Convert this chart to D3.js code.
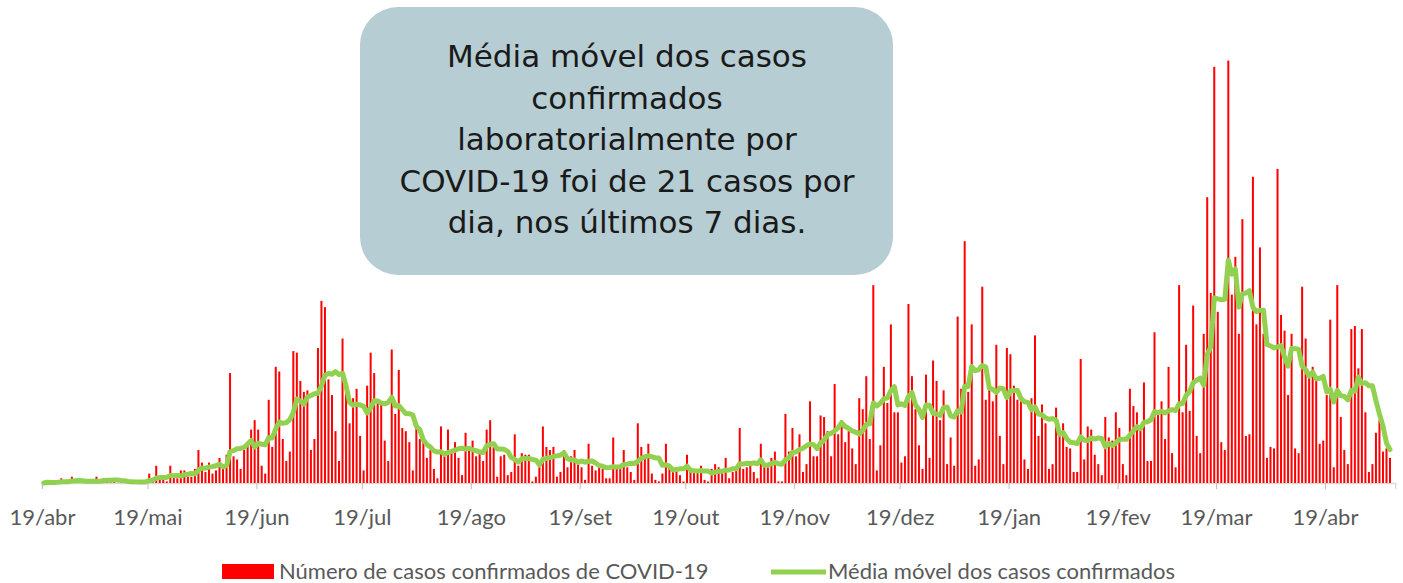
<!DOCTYPE html>
<html>
<head>
<meta charset="utf-8">
<script src="https://cdn.jsdelivr.net/npm/d3@7"></script>
<style>
  body { margin: 0; background: #fff; }
  svg { display: block; }
</style>
</head>
<body>
<div id="chart"></div>
<script>
// first day of the series (19/abr/2020), one value per day after it
const startDate = "2020-04-19";

// daily confirmed cases
const cases = [
  // abr-mai
  0, 1, 0, 0, 1, 3, 1, 0, 4, 1, 1, 0, 1, 1, 0, 4, 1, 3, 2, 1, 2, 0, 2, 0, 0, 1, 0, 1, 1, 2, 6, 1,
  // mai-jun
  11, 2, 2, 1, 11, 4, 3, 8, 8, 4, 4, 9, 21, 13, 7, 13, 6, 8, 16, 9, 18, 70, 17, 15, 9, 21, 24, 34, 40, 34, 11, 6, 53, 23, 74, 71,
  // jun-jul
  28, 14, 20, 84, 83, 65, 58, 59, 21, 28, 86, 116, 112, 66, 56, 33, 14, 92, 60, 38, 54, 60, 30, 8, 62, 83, 70, 53, 50, 27, 14, 85, 44, 72,
  // jul-ago
  35, 33, 26, 8, 35, 28, 26, 16, 21, 9, 3, 36, 17, 34, 21, 26, 16, 5, 32, 21, 27, 17, 20, 14, 34, 40, 23, 4, 17, 18, 5, 7, 31, 11,
  // ago-set
  19, 18, 18, 1, 4, 10, 36, 23, 21, 23, 4, 7, 21, 10, 17, 21, 12, 10, 2, 25, 11, 8, 10, 9, 3, 3, 29, 9, 9, 21, 10, 7, 2, 38,
  // set-out
  23, 16, 25, 6, 2, 1, 6, 25, 10, 8, 8, 5, 1, 18, 7, 7, 7, 11, 2, 1, 9, 12, 10, 7, 16, 3, 7, 8, 35, 9, 10, 14, 7, 3,
  // out-nov
  25, 11, 10, 16, 20, 1, 1, 44, 20, 35, 17, 31, 7, 12, 52, 17, 17, 43, 42, 33, 17, 63, 31, 40, 26, 33, 22, 12, 54, 47, 68, 28, 126, 8,
  // nov-dez
  24, 74, 51, 101, 45, 45, 13, 17, 114, 68, 47, 24, 9, 69, 16, 78, 65, 40, 59, 12, 29, 11, 106, 60, 154, 58, 101, 11, 15, 125, 53, 60, 52, 88,
  // dez-jan
  30, 12, 86, 82, 62, 53, 52, 15, 9, 54, 94, 30, 50, 38, 9, 12, 48, 30, 38, 23, 22, 7, 7, 79, 15, 36, 34, 18, 12, 5, 42, 29, 27, 45,
  // jan-mar
  35, 12, 5, 60, 49, 45, 36, 64, 14, 14, 96, 44, 52, 28, 74, 19, 10, 126, 45, 88, 46, 113, 30, 19, 95, 182, 121, 265, 109, 26, 21, 269, 120,
  // mar-mai
  144, 95, 168, 30, 31, 195, 101, 150, 95, 16, 23, 22, 200, 107, 97, 56, 95, 22, 19, 125, 92, 67, 74, 65, 25, 27, 56, 104, 10, 126, 42, 21, 12, 98, 100, 73, 98, 45, 7, 12, 32, 40, 20, 22, 16
];

// x axis ticks
const tickDates = ["2020-04-19", "2020-05-19", "2020-06-19", "2020-07-19", "2020-08-19", "2020-09-19",
  "2020-10-19", "2020-11-19", "2020-12-19", "2021-01-19", "2021-02-19", "2021-03-19", "2021-04-19"];
const tickLabels = ["19/abr", "19/mai", "19/jun", "19/jul", "19/ago", "19/set",
  "19/out", "19/nov", "19/dez", "19/jan", "19/fev", "19/mar", "19/abr"];

const calloutLines = [
  "Média móvel dos casos",
  "confirmados",
  "laboratorialmente por",
  "COVID-19 foi de 21 casos por",
  "dia, nos últimos 7 dias."
];

const legendLabels = ["Número de casos confirmados de COVID-19", "Média móvel dos casos confirmados"];

// build the daily table + 7 day trailing mean
const parse = d3.utcParse("%Y-%m-%d");
const start = parse(startDate);
const data = cases.map((v, i) => ({
  date: d3.utcDay.offset(start, i),
  value: v,
  avg: d3.mean(cases.slice(Math.max(0, i - 6), i + 1))
}));

const width = 1403, height = 583;
const margin = { left: 42, right: 8, top: 59, bottom: 100 };

const svg = d3.select("#chart")
  .append("svg")
  .attr("width", width)
  .attr("height", height)
  .style("background", "#fff");

const lastDay = d3.utcDay.offset(start, cases.length + 1);
const x = d3.scaleUtc()
  .domain([start, lastDay])
  .range([margin.left, margin.left + (cases.length + 1) * 3.515]);

const y = d3.scaleLinear()
  .domain([0, 270])
  .range([height - margin.bottom, margin.top]);

const halfDay = (x(d3.utcDay.offset(start, 1)) - x(start)) / 2;

// axis
const xAxis = svg.append("g")
  .attr("transform", `translate(0, ${y(0)})`)
  .call(d3.axisBottom(x)
    .tickValues(tickDates.map(parse))
    .tickFormat((d, i) => tickLabels[i])
    .tickSizeOuter(0)
    .tickSize(6));

xAxis.select(".domain").attr("stroke", "#d9d9d9").attr("stroke-width", 1.3);
xAxis.selectAll(".tick line").attr("stroke", "#bfbfbf");
xAxis.selectAll(".tick text")
  .attr("y", 34)
  .attr("dy", "0.35em")
  .attr("fill", "#595959")
  .style("font-family", "Lato, sans-serif")
  .style("font-size", "22px");

// bars
svg.append("g")
  .selectAll("rect")
  .data(data)
  .enter()
  .append("rect")
  .attr("x", d => x(d.date) + halfDay - 1)
  .attr("y", d => y(d.value))
  .attr("width", 2)
  .attr("height", d => y(0) - y(d.value))
  .attr("fill", "#ff0000");

// moving average
const line = d3.line()
  .x(d => x(d.date) + halfDay)
  .y(d => y(d.avg));

svg.append("path")
  .datum(data)
  .attr("fill", "none")
  .attr("stroke", "#92d050")
  .attr("stroke-width", 5)
  .attr("stroke-linejoin", "round")
  .attr("stroke-linecap", "round")
  .attr("d", line);

// callout box
const callout = svg.append("g");
callout.append("rect")
  .attr("x", 360)
  .attr("y", 7)
  .attr("width", 533)
  .attr("height", 268)
  .attr("rx", 38)
  .attr("fill", "#b6cdd3");

callout.selectAll("text")
  .data(calloutLines)
  .enter()
  .append("text")
  .attr("x", 627)
  .attr("y", (d, i) => 67 + i * 41.5)
  .attr("text-anchor", "middle")
  .attr("fill", "#1a1a1a")
  .style("font-family", "'DejaVu Sans', sans-serif")
  .style("font-size", "31px")
  .text(d => d);

// legend
const legend = svg.append("g");
legend.append("rect")
  .attr("x", 222)
  .attr("y", 564)
  .attr("width", 52)
  .attr("height", 15)
  .attr("fill", "#ff0000");
legend.append("text")
  .attr("x", 279)
  .attr("y", 579)
  .attr("fill", "#595959")
  .style("font-family", "Lato, sans-serif")
  .style("font-size", "22px")
  .text(legendLabels[0]);
legend.append("line")
  .attr("x1", 771)
  .attr("x2", 826)
  .attr("y1", 572)
  .attr("y2", 572)
  .attr("stroke", "#92d050")
  .attr("stroke-width", 5);
legend.append("text")
  .attr("x", 828)
  .attr("y", 579)
  .attr("fill", "#595959")
  .style("font-family", "Lato, sans-serif")
  .style("font-size", "22px")
  .text(legendLabels[1]);
</script>
</body>
</html>
